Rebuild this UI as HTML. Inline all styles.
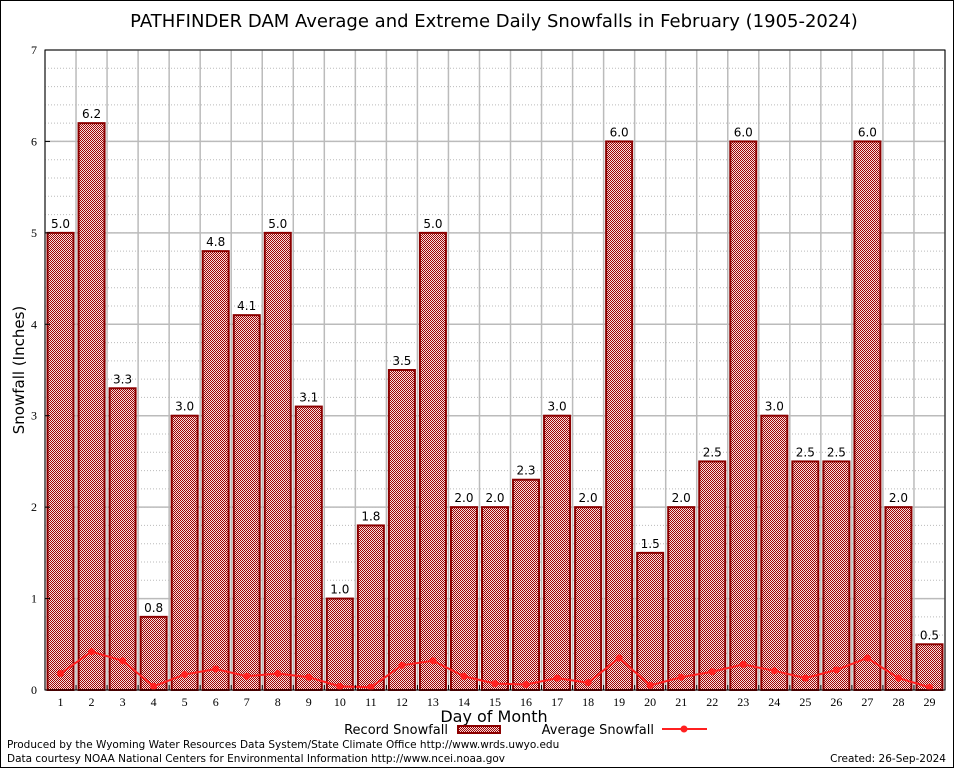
<!DOCTYPE html>
<html><head><meta charset="utf-8"><style>
body{margin:0;background:#fff;}
svg{display:block;font-family:"DejaVu Sans","Liberation Sans",sans-serif;}
</style></head><body>
<svg id="chart" width="954" height="768">
<defs>
<pattern id="chk" width="2" height="2" patternUnits="userSpaceOnUse">
<rect width="2" height="2" fill="#f4e0e0"/>
<rect width="1" height="1" fill="#a00000"/>
<rect x="1" y="1" width="1" height="1" fill="#a00000"/>
</pattern>
</defs>
<rect x="0.5" y="0.5" width="953" height="767" fill="#fff" stroke="#000"/>
<text x="494" y="27" font-size="18" text-anchor="middle">PATHFINDER DAM Average and Extreme Daily Snowfalls in February (1905-2024)</text>
<g id="grid"></g>
<g id="bars"></g>
<g id="line"></g>
<g id="axes"></g>
<text transform="translate(24,370) rotate(-90)" font-size="15" text-anchor="middle">Snowfall (Inches)</text>
<text x="494" y="722" font-size="16" text-anchor="middle">Day of Month</text>
<g>
<text x="448" y="734" font-size="13" text-anchor="end">Record Snowfall</text>
<rect x="458" y="726" width="42" height="7" fill="url(#chk)" stroke="#8b0000" stroke-width="2"/>
</g>
<g>
<text x="654" y="734" font-size="13" text-anchor="end">Average Snowfall</text>
<line x1="662" y1="729" x2="707" y2="729" stroke="#ff2020" stroke-width="2"/>
<circle cx="684" cy="729" r="3.5" fill="#ff2020"/>
</g>
<text x="7" y="748" font-size="10.5">Produced by the Wyoming Water Resources Data System/State Climate Office http://www.wrds.uwyo.edu</text>
<text x="7" y="762" font-size="10.5">Data courtesy NOAA National Centers for Environmental Information http://www.ncei.noaa.gov</text>
<text x="946" y="762" font-size="10.5" text-anchor="end">Created:  26-Sep-2024</text>
</svg>
<script>
const days=[1,2,3,4,5,6,7,8,9,10,11,12,13,14,15,16,17,18,19,20,21,22,23,24,25,26,27,28,29];
const recordSnow=[5.0,6.2,3.3,0.8,3.0,4.8,4.1,5.0,3.1,1.0,1.8,3.5,5.0,2.0,2.0,2.3,3.0,2.0,6.0,1.5,2.0,2.5,6.0,3.0,2.5,2.5,6.0,2.0,0.5];
const avgSnow=[0.18,0.42,0.32,0.04,0.17,0.23,0.15,0.18,0.14,0.04,0.03,0.27,0.32,0.15,0.07,0.06,0.13,0.08,0.35,0.05,0.14,0.2,0.28,0.21,0.13,0.22,0.35,0.13,0.03];
const yTicks=[0,1,2,3,4,5,6,7];
const NS="http://www.w3.org/2000/svg";
const L=45,R=945,T=50,B=690,YMAX=7;
const bw=(R-L)/days.length;
function xs(i){return L+(i+0.5)*bw;}
function ys(v){return B-(v/YMAX)*(B-T);}
function mk(tag,attrs,parent){const e=document.createElementNS(NS,tag);for(const k in attrs)e.setAttribute(k,attrs[k]);parent.appendChild(e);return e;}
const grid=document.getElementById('grid'),bars=document.getElementById('bars'),line=document.getElementById('line'),axes=document.getElementById('axes');
for(let v=0;v<YMAX;v+=0.2){const y=ys(v);mk('line',{x1:L,x2:R,y1:y,y2:y,stroke:'#bbb','stroke-dasharray':'1,2','stroke-width':1},grid);}
yTicks.forEach(v=>{const y=ys(v);
const g=mk('line',{x1:L,x2:R,y1:y,y2:y,stroke:'#bbb','stroke-width':1.5},grid);


const t=mk('text',{x:L-8,y:y+4,'font-size':12,'text-anchor':'end','font-family':'Liberation Serif, serif'},axes);t.textContent=v;


mk('line',{x1:L,x2:L+5,y1:y,y2:y,stroke:'#000'},axes);});
for(let i=0;i<=days.length;i++){const x=L+i*bw;mk('line',{x1:x,x2:x,y1:T,y2:B,stroke:'#bbb','stroke-width':1.5},grid);}
days.forEach((d,i)=>{const x=xs(i),v=recordSnow[i];
const r=mk('rect',{x:x-13,y:ys(v),width:26,height:B-ys(v),fill:'url(#chk)',stroke:'#8b0000','stroke-width':2},bars);


const lb=mk('text',{x:x,y:ys(v)-5,'font-size':12,'text-anchor':'middle'},bars);lb.textContent=v.toFixed(1);


const t=mk('text',{x:x,y:B+16,'font-size':12,'text-anchor':'middle','font-family':'Liberation Serif, serif'},axes);t.textContent=d;


mk('line',{x1:L+i*bw,x2:L+i*bw,y1:B,y2:B-5,stroke:'#000'},axes);});
const pts=avgSnow.map((v,i)=>xs(i)+','+ys(v)).join(' ');
const pl=mk('polyline',{points:pts,fill:'none',stroke:'#ff2020','stroke-width':2},line);


avgSnow.forEach((v,i)=>{const c=mk('circle',{cx:xs(i),cy:ys(v),r:3.5,fill:'#ff2020'},line);

});
const fr=mk('rect',{x:L,y:T,width:R-L,height:B-T,fill:'none',stroke:'#000'},axes);


</script>
</body></html>
